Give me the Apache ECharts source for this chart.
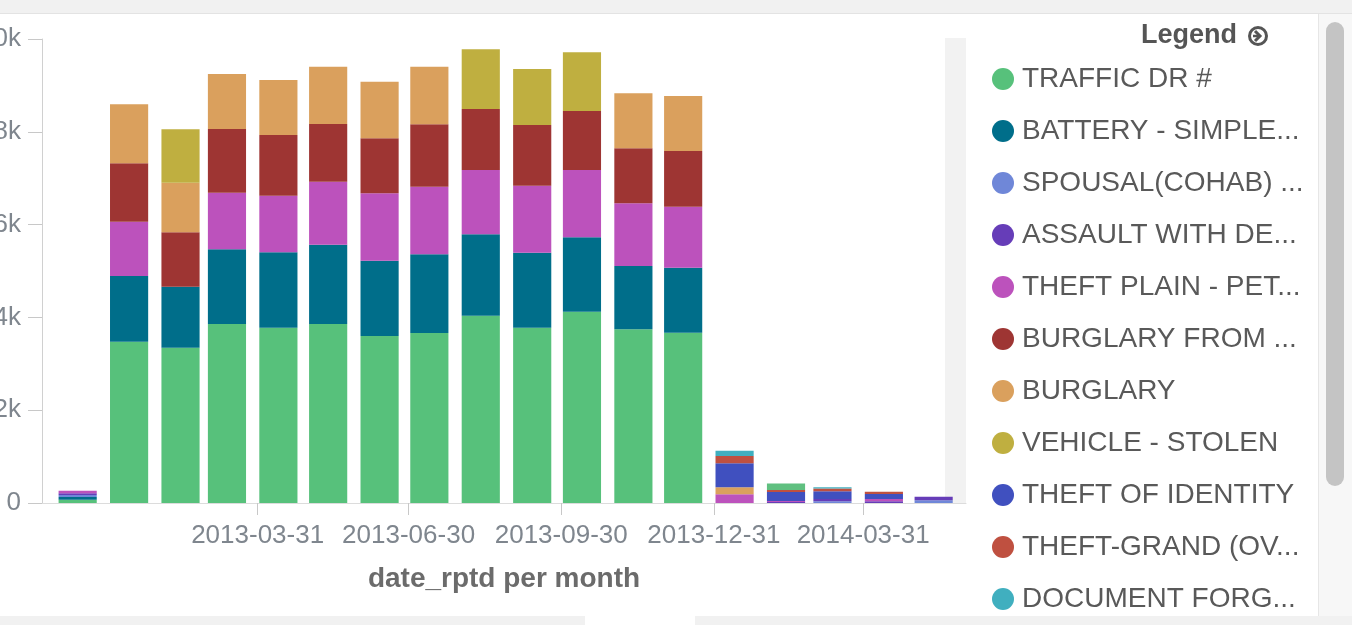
<!DOCTYPE html>
<html>
<head>
<meta charset="utf-8">
<title>date_rptd per month</title>
<script src="https://cdn.jsdelivr.net/npm/echarts@6/dist/echarts.min.js"></script>
<style>
  html, body { margin: 0; padding: 0; background: #ffffff; }
  #chart { width: 1352px; height: 625px; }
</style>
</head>
<body>
<div id="chart"></div>
<script>
// Monthly buckets (bucket start month)
const months = ['2012-12', '2013-01', '2013-02', '2013-03', '2013-04', '2013-05',
                '2013-06', '2013-07', '2013-08', '2013-09', '2013-10', '2013-11',
                '2013-12', '2014-01', '2014-02', '2014-03', '2014-04', '2014-05'];

// Crime categories, in stacking order (bottom to top)
const seriesNames = ['TRAFFIC DR #', 'BATTERY - SIMPLE...', 'SPOUSAL(COHAB) ...',
                     'ASSAULT WITH DE...', 'THEFT PLAIN - PET...', 'BURGLARY FROM ...',
                     'BURGLARY', 'VEHICLE - STOLEN', 'THEFT OF IDENTITY',
                     'THEFT-GRAND (OV...', 'DOCUMENT FORG...', 'VANDALISM - MISD...'];

const seriesColors = ['#57c17b', '#006e8a', '#6f87d8', '#663db8', '#bc52bc', '#9e3533',
                      '#daa05d', '#bfaf40', '#4050bf', '#bf5040', '#40afbf', '#60c080'];

// Counts per month for each category
const trafficDr     = [70, 3476, 3347, 3858, 3778, 3858, 3599, 3664, 4037, 3778, 4123, 3743, 3670, 0, 0, 0, 0, 0];
const battery       = [60, 1416, 1315, 1610, 1625, 1709, 1623, 1696, 1754, 1616, 1603, 1365, 1401, 0, 0, 0, 0, 0];
const spousal       = [40, 0, 0, 0, 0, 0, 0, 0, 0, 0, 0, 0, 0, 0, 0, 40, 0, 60];
const assaultDw     = [40, 0, 0, 0, 0, 0, 0, 0, 0, 0, 0, 0, 0, 0, 20, 45, 40, 75];
const theftPlain    = [55, 1170, 0, 1220, 1220, 1358, 1453, 1457, 1386, 1444, 1451, 1351, 1315, 187, 25, 0, 45, 0];
const burglaryVeh   = [0, 1259, 1172, 1372, 1308, 1243, 1185, 1345, 1314, 1309, 1271, 1185, 1200, 0, 0, 0, 0, 0];
const burglary      = [0, 1272, 1069, 1186, 1185, 1235, 1220, 1241, 0, 0, 0, 1186, 1188, 151, 0, 0, 0, 0];
const vehicleStolen = [0, 0, 1151, 0, 0, 0, 0, 0, 1287, 1206, 1265, 0, 0, 0, 0, 0, 0, 0];
const theftIdentity = [0, 0, 0, 0, 0, 0, 0, 0, 0, 0, 0, 0, 0, 517, 194, 170, 110, 0];
const theftGrand    = [0, 0, 0, 0, 0, 0, 0, 0, 0, 0, 0, 0, 0, 157, 43, 60, 45, 0];
const docForgery    = [0, 0, 0, 0, 0, 0, 0, 0, 0, 0, 0, 0, 0, 114, 0, 25, 0, 0];
const vandalism     = [0, 0, 0, 0, 0, 0, 0, 0, 0, 0, 0, 0, 0, 0, 140, 0, 0, 0];

const seriesValues = [trafficDr, battery, spousal, assaultDw, theftPlain, burglaryVeh,
                      burglary, vehicleStolen, theftIdentity, theftGrand, docForgery, vandalism];

// Names listed in the legend panel (the rest is scrolled out of view)
const legendCount = 11;

// X axis tick dates and Y axis tick labels
const xTickDates = ['2013-03-31', '2013-06-30', '2013-09-30', '2013-12-31', '2014-03-31'];
const yTickLabels = ['0', '2k', '4k', '6k', '8k', '10k'];

const DAY = 86400000;
function monthStart(s) {
  const p = s.split('-').map(Number);
  return Date.UTC(p[0], p[1] - 1, 1);
}
function dayValue(s) {
  const p = s.split('-').map(Number);
  return Date.UTC(p[0], p[1] - 1, p[2]);
}

// Stack each category on top of the previous ones: [time, base, top]
const cumulative = months.map(() => 0);
const series = seriesValues.map((vals, i) => {
  const data = vals.map((v, j) => {
    const base = cumulative[j];
    cumulative[j] += v;
    return [monthStart(months[j]), base, base + v];
  });
  return {
    name: seriesNames[i],
    type: 'custom',
    color: seriesColors[i],
    encode: { x: 0, y: [1, 2] },
    renderItem: function (params, api) {
      const lo = api.value(1), hi = api.value(2);
      if (hi <= lo) return null;
      const start = api.coord([api.value(0), lo]);
      const end = api.coord([api.value(0), hi]);
      const width = api.size([23 * DAY, 0])[0];
      return {
        type: 'rect',
        shape: { x: start[0], y: end[1], width: width, height: start[1] - end[1] },
        style: { fill: seriesColors[i] }
      };
    },
    data: data
  };
});

const FONT = 'Liberation Sans, Arial, sans-serif';
const chart = echarts.init(document.getElementById('chart'));
chart.setOption({
  useUTC: true,
  animation: false,
  textStyle: { fontFamily: FONT },
  grid: { left: 42, right: 386, top: 39, bottom: 122, containLabel: false, outerBoundsMode: 'none' },
  xAxis: {
    type: 'time',
    min: Date.UTC(2012, 10, 21),
    max: Date.UTC(2014, 5, 1),
    name: 'date_rptd per month',
    nameLocation: 'middle',
    nameGap: 62,
    nameTextStyle: { fontSize: 28, fontWeight: 'bold', color: '#6b6b6b' },
    axisLine: { show: true, lineStyle: { color: '#dcdcdc', width: 1 } },
    axisTick: { show: true, length: 12, lineStyle: { color: '#c8c8c8' },
                customValues: xTickDates.map(dayValue) },
    axisLabel: { fontSize: 26, color: '#7f868e', margin: 20, hideOverlap: false,
                 customValues: xTickDates.map(dayValue),
                 formatter: '{yyyy}-{MM}-{dd}' },
    splitLine: { show: false }
  },
  yAxis: {
    type: 'value',
    min: 0,
    max: 10000,
    interval: 2000,
    axisLine: { show: true, lineStyle: { color: '#d0d0d0', width: 1 } },
    axisTick: { show: true, length: 14, lineStyle: { color: '#c8c8c8' } },
    axisLabel: { fontSize: 26, color: '#7f868e', margin: 21,
                 formatter: function (v) { return yTickLabels[Math.round(v / 2000)]; } },
    splitLine: { show: false }
  },
  legend: {
    orient: 'vertical',
    left: 987,
    top: 60,
    icon: 'circle',
    itemWidth: 22,
    itemHeight: 22,
    itemGap: 24,
    selectedMode: false,
    data: seriesNames.slice(0, legendCount),
    textStyle: { fontSize: 28, color: '#595959', lineHeight: 28, padding: [0, 0, 0, 3] }
  },
  graphic: [
    // strip at the right end of the plot area
    { type: 'rect', z: -1, shape: { x: 945, y: 38, width: 21, height: 465 },
      style: { fill: '#f2f2f2' } },
    // top band
    { type: 'rect', shape: { x: 0, y: 0, width: 1352, height: 13 }, style: { fill: '#f1f1f1' } },
    { type: 'line', shape: { x1: 0, y1: 13.5, x2: 1352, y2: 13.5 }, style: { stroke: '#e3e3e3', lineWidth: 1 } },
    // bottom band
    { type: 'rect', shape: { x: 0, y: 616, width: 1352, height: 9 }, style: { fill: '#f1f1f1' } },
    { type: 'rect', shape: { x: 585, y: 616, width: 110, height: 9 }, style: { fill: '#ffffff' } },
    // scroll bar of the legend panel
    { type: 'rect', shape: { x: 1318, y: 14, width: 34, height: 602 }, style: { fill: '#f7f7f7' } },
    { type: 'line', shape: { x1: 1318.5, y1: 14, x2: 1318.5, y2: 616 }, style: { stroke: '#e6e6e6', lineWidth: 1 } },
    { type: 'rect', shape: { x: 1326, y: 22, width: 18, height: 464, r: 9 }, style: { fill: '#c4c4c4' } },
    // legend header
    { type: 'text', x: 1237, y: 36,
      style: { text: 'Legend', fontSize: 27, fontWeight: 'bold', fill: '#555555',
               align: 'right', verticalAlign: 'middle', fontFamily: FONT } },
    { type: 'circle', shape: { cx: 1258, cy: 36, r: 8.5 },
      style: { fill: 'none', stroke: '#555555', lineWidth: 3 } },
    { type: 'polyline', shape: { points: [[1255, 31], [1260, 36], [1255, 41]] },
      style: { fill: 'none', stroke: '#555555', lineWidth: 3 } },
    { type: 'line', shape: { x1: 1253, y1: 36, x2: 1260, y2: 36 },
      style: { stroke: '#555555', lineWidth: 2.5 } }
  ],
  series: series
});
</script>
</body>
</html>
